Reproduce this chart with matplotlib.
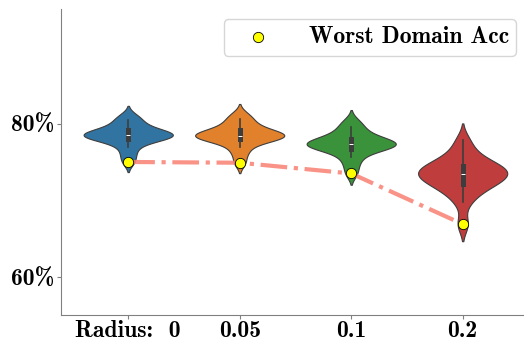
import numpy as np
import pandas as pd
import seaborn as sns
import matplotlib
matplotlib.use("Agg")
import matplotlib.pyplot as plt

# per-domain accuracy (%) for each perturbation radius
radius_labels = ["Radius:  0", "0.05", "0.1", "0.2"]
acc_r0 = [75.0, 76.0, 76.9, 77.6, 77.9, 78.1, 78.3, 78.4, 78.5, 78.5, 78.6, 78.8, 79.0, 79.2, 79.5, 80.0, 80.5, 81.0]
acc_r005 = [74.9, 76.1, 76.9, 77.6, 77.9, 78.1, 78.2, 78.3, 78.4, 78.5, 78.6, 78.8, 79.0, 79.2, 79.6, 80.1, 80.6, 81.2]
acc_r01 = [73.5, 74.7, 75.6, 76.3, 76.7, 76.9, 77.1, 77.2, 77.3, 77.3, 77.5, 77.7, 77.9, 78.1, 78.5, 79.0, 79.6, 80.3]
acc_r02 = [66.9, 69.8, 71.0, 71.7, 72.0, 72.4, 72.8, 73.1, 73.3, 73.5, 73.8, 74.0, 74.3, 74.6, 74.9, 75.5, 76.4, 77.8]
worst_acc = [75.0, 74.9, 73.5, 66.9]

bold_cm = "cmb10"  # Computer Modern bold shipped with matplotlib
fs = 17

groups = [acc_r0, acc_r005, acc_r01, acc_r02]
df = pd.DataFrame({
    "radius": np.repeat(radius_labels, [len(g) for g in groups]),
    "acc": np.concatenate(groups),
})

fig, ax = plt.subplots(figsize=(5.24, 3.41), dpi=100)
sns.violinplot(data=df, x="radius", y="acc", hue="radius", palette="tab10", order=radius_labels,
               legend=False, linewidth=0.8, inner="box", bw_adjust=0.8, ax=ax)

xs = np.arange(len(radius_labels))
ax.plot(xs, worst_acc, ls="-.", lw=3, color="salmon", alpha=0.85, zorder=3)
ax.scatter(xs, worst_acc, s=55, color="yellow", edgecolor="black", linewidth=0.6, zorder=4,
           label="Worst Domain Acc")

ax.set_ylim(55, 95)
ax.set_xlim(-0.6, 3.55)
ax.set_yticks([60, 80])
ax.set_yticklabels(["60%", "80%"], family=bold_cm, fontsize=fs)
ax.set_xticks(xs)
ax.set_xticklabels(radius_labels, family=bold_cm, fontsize=fs)
ax.set_xlabel("")
ax.set_ylabel("")
for side in ["top", "right"]:
    ax.spines[side].set_visible(False)
for side in ["left", "bottom"]:
    ax.spines[side].set_color("gray")
ax.tick_params(colors="gray", labelcolor="black", length=3, pad=2)
ax.tick_params(axis="x", pad=0)
ax.legend(loc="upper right", prop={"family": bold_cm, "size": fs}, handletextpad=1.0,
          borderpad=0.3, handlelength=2.3, bbox_to_anchor=(1.008, 1.003))

fig.subplots_adjust(left=0.117, right=1.0, top=0.975, bottom=0.075)
fig.savefig("out.png", dpi=100)
